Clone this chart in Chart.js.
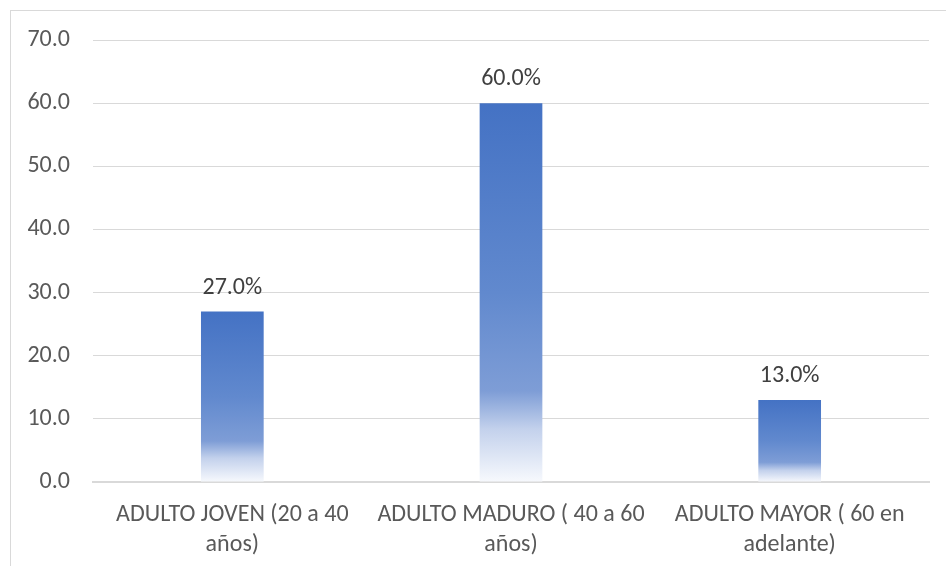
<!DOCTYPE html>
<html><head><meta charset="utf-8">
<script src="https://cdn.jsdelivr.net/npm/chart.js@4.4.1/dist/chart.umd.min.js"></script>
<style>html,body{margin:0;padding:0;background:#fff;}#wrap{position:absolute;left:0;top:0;width:946px;height:566px;}</style>
</head><body><div id="wrap"><canvas id="c" width="946" height="566"></canvas></div>
<script>
const categories = [["ADULTO JOVEN (20 a 40","años)"],["ADULTO MADURO ( 40 a 60","años)"],["ADULTO MAYOR ( 60 en","adelante)"]];
const values = [27.0, 60.0, 13.0];
const yTicks = [0,10,20,30,40,50,60,70];

const FONT = "Carlito, Calibri, Lato, 'Open Sans', sans-serif";
const frame = {id:'frame', beforeDraw(ch){const c=ch.ctx;c.save();c.strokeStyle='#d9d9d9';c.lineWidth=1;c.strokeRect(10.5,10.5,960,580);c.restore();}};
const labels = {id:'labels', afterDatasetsDraw(ch){const c=ch.ctx;const meta=ch.getDatasetMeta(0);c.save();c.fillStyle='#404040';c.font='24px '+FONT;c.textAlign='center';c.textBaseline='alphabetic';
meta.data.forEach((b,i)=>{c.fillText(values[i].toFixed(1)+'%',b.x,b.y-18);});c.restore();}};

new Chart(document.getElementById('c'),{
 type:'bar',
 data:{labels:categories,datasets:[{data:values,barPercentage:0.225,categoryPercentage:1,
   backgroundColor:(ctx)=>{const ch=ctx.chart;const ys=ch.scales.y;if(!ys||!ctx.parsed)return '#4472C4';
     const top=ys.getPixelForValue(ctx.parsed.y);const bot=ys.getPixelForValue(0);
     if(!isFinite(top)||!isFinite(bot)||top===bot)return '#4472C4';
     const g=ch.ctx.createLinearGradient(0,top,0,bot);
     g.addColorStop(0,'#4472C4');g.addColorStop(0.5,'#6189CE');g.addColorStop(0.76,'#7E9DD6');g.addColorStop(0.86,'#C3D1EC');g.addColorStop(1,'#F7F9FD');return g;}}]},
 plugins:[frame,labels],
 options:{responsive:false,animation:false,devicePixelRatio:1,
  layout:{padding:{left:0,right:17,top:40,bottom:0}},
  plugins:{legend:{display:false},tooltip:{enabled:false}},
  scales:{
   x:{grid:{display:false},border:{display:true,color:'#d9d9d9',width:2},
      ticks:{color:'#595959',font:{family:FONT,size:24,lineHeight:1.25},padding:10,maxRotation:0},
      afterFit(s){s.height=84;}},
   y:{min:0,max:70,grid:{color:'#d9d9d9',drawTicks:false},border:{display:false},
      afterBuildTicks(s){s.ticks=yTicks.map(v=>({value:v}));},
      ticks:{color:'#595959',font:{family:FONT,size:24},padding:23,callback:(v)=>Number(v).toFixed(1)},
      afterFit(s){s.width=93;}}
  }}
});
</script></body></html>
